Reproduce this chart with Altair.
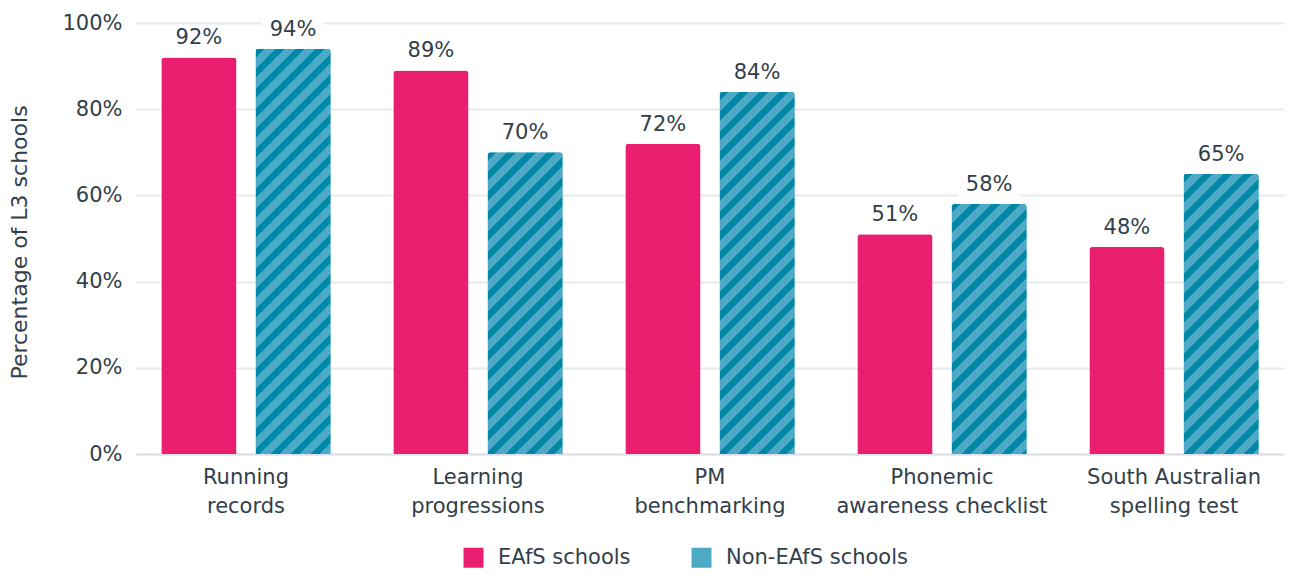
import altair as alt

# ---- data ----
categories = ["Running|records", "Learning|progressions", "PM|benchmarking",
              "Phonemic|awareness checklist", "South Australian|spelling test"]
series = ["EAfS schools", "Non-EAfS schools"]
eafs = [92, 89, 72, 51, 48]
non_eafs = [94, 70, 84, 58, 65]

# ---- style ----
PINK = "#E91E6E"
TEAL_D = "#0088A8"
TEAL_L = "#4CAAC6"
TEXT = "#323E4A"
GRID = "#E7E9EE"
FONT = "DejaVu Sans"
PLOT_W = 1148
PLOT_H = 431
BAR_W = 75
PERIOD = 20
DARK_FRAC = 0.45


def stripes(h):
    """Diagonal hatch as a linear gradient with hard stops (45 deg in pixels)."""
    w = BAR_W
    s = (w + h) / (w * w + h * h)
    p = PERIOD / (w + h)
    stops = []
    t = 0.0
    while t < 1:
        m = min(t + p * DARK_FRAC, 1)
        e = min(t + p, 1)
        stops += [{"offset": t, "color": TEAL_D}, {"offset": m, "color": TEAL_D},
                  {"offset": m, "color": TEAL_L}, {"offset": e, "color": TEAL_L}]
        t += p
    return {"gradient": "linear", "x1": 0, "y1": 0, "x2": w * s, "y2": h * s, "stops": stops}


rows = []
for c, a, b in zip(categories, eafs, non_eafs):
    rows.append({"cat": c, "series": series[0], "value": a})
    rows.append({"cat": c, "series": series[1], "value": b})
hatch_rows = [{"cat": c, "series": series[1], "value": b, "grad": stripes(b / 100 * PLOT_H)}
              for c, b in zip(categories, non_eafs)]

data = alt.Data(values=rows)
hatch_data = alt.Data(values=hatch_rows)

x_enc = alt.X("cat:N", sort=categories,
              scale=alt.Scale(paddingInner=0.27, paddingOuter=0.109),
              axis=alt.Axis(title=None, labelExpr="split(datum.label, '|')", labelAngle=0,
                            labelPadding=12, labelFontSize=21, labelLineHeight=29,
                            labelFont=FONT, labelColor=TEXT, ticks=False,
                            domainColor="#DCDFE6", domainWidth=2, grid=False, labelLimit=0))
xo_enc = alt.XOffset("series:N", sort=series, scale=alt.Scale(domain=series, paddingInner=0.202))
y_enc = alt.Y("value:Q", scale=alt.Scale(domain=[0, 100]),
              axis=alt.Axis(values=[0, 20, 40, 60, 80, 100], labelExpr="datum.value + '%'",
                            title="Percentage of L3 schools", titleFontSize=22,
                            titleFontWeight="normal", titleFont=FONT, titleColor=TEXT,
                            titleX=-117, titleY=219, titleAngle=270, titleAlign="center",
                            titleBaseline="middle",
                            labelFontSize=21, labelFont=FONT, labelColor=TEXT, labelPadding=14,
                            domain=False, ticks=False, grid=True, gridColor=GRID, gridWidth=2))

bars = alt.Chart(data).mark_bar(cornerRadiusTopLeft=3, cornerRadiusTopRight=3).encode(
    x=x_enc, xOffset=xo_enc, y=y_enc,
    color=alt.Color("series:N", scale=alt.Scale(domain=series, range=[PINK, TEAL_L]),
                    legend=alt.Legend(orient="none", legendX=327, legendY=524,
                                      direction="horizontal", title=None,
                                      symbolType="square", symbolSize=400,
                                      symbolStrokeWidth=0, symbolOpacity=1,
                                      labelFontSize=21, labelFont=FONT, labelColor=TEXT,
                                      labelOffset=14, columnPadding=60, padding=0,
                                      labelLimit=0))
)

hatch = alt.Chart(hatch_data).mark_bar(cornerRadiusTopLeft=3, cornerRadiusTopRight=3).encode(
    x=x_enc, xOffset=xo_enc, y=y_enc,
    fill=alt.Fill("grad:N", scale=None)
)

label_bg = alt.Chart(data).mark_tick(color="white", thickness=24, size=62, yOffset=-19,
                                     opacity=1).encode(x=x_enc, xOffset=xo_enc, y=y_enc)

labels = alt.Chart(data).transform_calculate(
    label="datum.value + '%'"
).mark_text(dy=-19, fontSize=21, font=FONT, color=TEXT, baseline="middle").encode(
    x=x_enc, xOffset=xo_enc, y=y_enc, text="label:N"
)

chart = alt.layer(bars, hatch, label_bg, labels).properties(
    width=PLOT_W, height=PLOT_H,
    autosize=alt.AutoSizeParams(type="none"),
    padding={"left": 128, "top": 15, "right": 0, "bottom": 116},
).configure_view(stroke=None)

chart.save("out.html", embed_options={"renderer": "svg", "actions": False})
